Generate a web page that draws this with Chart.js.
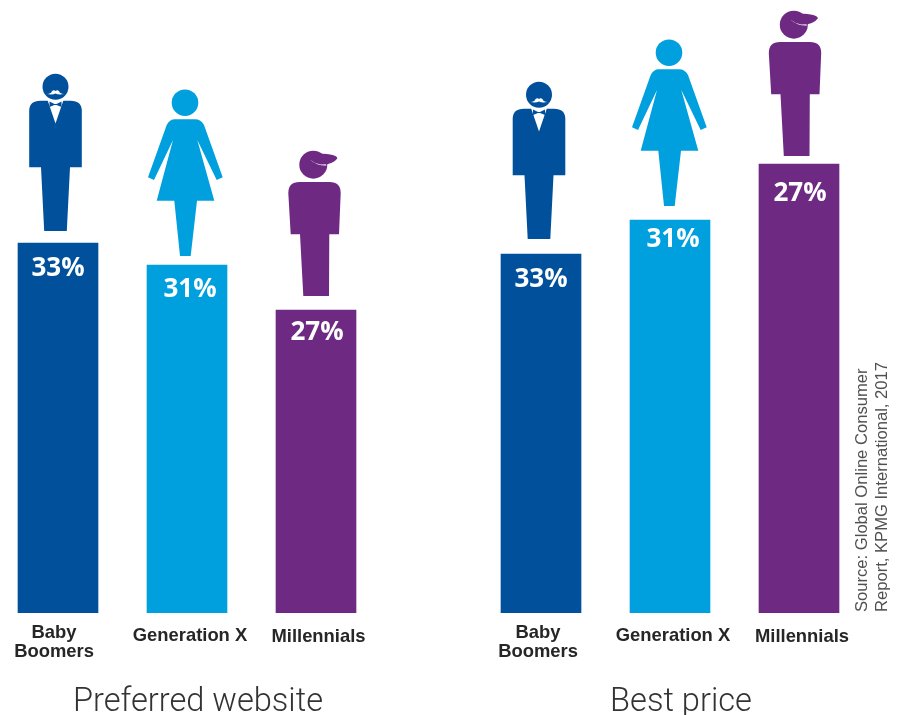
<!DOCTYPE html>
<html>
<head>
<meta charset="utf-8">
<title>Preferred website and best price by generation</title>
<script src="https://cdn.jsdelivr.net/npm/chart.js@4/dist/chart.umd.min.js"></script>
<style>
    html, body { margin: 0; padding: 0; width: 897px; height: 715px; overflow: hidden; background: #fff; }
    canvas { position: absolute; top: 0; }
    #source {
        position: absolute; left: 852px; top: 612px;
        transform-origin: 0 0; transform: rotate(-90deg);
        font: 400 16.6px/20px "Liberation Sans", sans-serif; color: #505050; white-space: nowrap;
    }
</style>
</head>
<body>
<canvas id="preferredChart" width="395" height="715" style="left:-7px"></canvas>
<canvas id="priceChart" width="395" height="715" style="left:476px"></canvas>
<div id="source">Source: Global Online Consumer<br>Report, KPMG International, 2017</div>

<script>
const categories = [['Baby', 'Boomers'], ['Generation X'], ['Millennials']];
const barColors = ['#00509b', '#00a0df', '#6e2a82'];

// Bar lengths as measured on the picture; they do not follow the printed percentages
const preferredHeights = [370, 348, 303];
const bestPriceHeights = [359, 393, 449];
const preferredPercents = ['33%', '31%', '27%'];
const bestPricePercents = ['33%', '31%', '27%'];

// Figures are drawn around (0, 0) = middle of the feet
const drawMan = (c, color) => {
    c.fillStyle = color;
    c.beginPath();
    c.arc(0, -144.3, 13, 0, Math.PI * 2);
    c.fill();
    c.beginPath();
    c.moveTo(-26.3, -63.7);
    c.lineTo(-26.3, -120);
    c.quadraticCurveTo(-26.3, -130.3, -15, -130.3);
    c.lineTo(15, -130.3);
    c.quadraticCurveTo(26.3, -130.3, 26.3, -120);
    c.lineTo(26.3, -63.7);
    c.lineTo(14.5, -63.7);
    c.lineTo(11.3, 0);
    c.lineTo(-11.3, 0);
    c.lineTo(-14.5, -63.7);
    c.closePath();
    c.fill();

    // shirt and moustache
    c.fillStyle = '#fff';
    c.beginPath();
    c.moveTo(-8, -131);
    c.lineTo(8, -131);
    c.lineTo(0, -107.5);
    c.closePath();
    c.fill();
    c.beginPath();
    c.moveTo(-8.5, -137);
    c.quadraticCurveTo(-4, -137.5, -3.5, -140);
    c.quadraticCurveTo(-1.5, -141.5, 0, -140);
    c.quadraticCurveTo(1.5, -141.5, 3.5, -140);
    c.quadraticCurveTo(4, -137.5, 8.5, -137);
    c.quadraticCurveTo(3, -136, 0, -137.5);
    c.quadraticCurveTo(-3, -136, -8.5, -137);
    c.closePath();
    c.fill();

    // bow tie
    c.fillStyle = color;
    c.beginPath();
    c.moveTo(-6, -129.5);
    c.lineTo(-1, -127);
    c.lineTo(1, -127);
    c.lineTo(6, -129.5);
    c.lineTo(6, -124);
    c.lineTo(1, -126);
    c.lineTo(-1, -126);
    c.lineTo(-6, -124);
    c.closePath();
    c.fill();
};

const drawWoman = (c, color) => {
    c.fillStyle = color;
    c.beginPath();
    c.arc(0, -153.3, 13.3, 0, Math.PI * 2);
    c.fill();
    c.beginPath();
    c.moveTo(-10, -136.7);
    c.quadraticCurveTo(-15.5, -136.7, -18.3, -131);
    c.lineTo(-37, -78.7);
    c.lineTo(-31, -76);
    c.lineTo(-12, -116);
    c.lineTo(-28.3, -55.3);
    c.lineTo(-10.7, -55.3);
    c.lineTo(-5, 0);
    c.lineTo(5.7, 0);
    c.lineTo(12, -55.3);
    c.lineTo(29.3, -55.3);
    c.lineTo(12.3, -116);
    c.lineTo(31.7, -76);
    c.lineTo(37.7, -78.7);
    c.lineTo(19, -131);
    c.quadraticCurveTo(16, -136.7, 10, -136.7);
    c.closePath();
    c.fill();
};

const drawYouth = (c, color) => {
    c.fillStyle = color;
    c.beginPath();
    c.arc(-1.2, -131.3, 14, 0, Math.PI * 2);
    c.fill();
    c.beginPath();
    c.moveTo(-26.2, -103);
    c.quadraticCurveTo(-26.2, -114, -15, -114);
    c.lineTo(15, -114);
    c.quadraticCurveTo(26.2, -114, 26.2, -103);
    c.lineTo(24.5, -61.7);
    c.lineTo(14.8, -61.7);
    c.lineTo(14.5, 0);
    c.lineTo(-11.2, 0);
    c.lineTo(-14.5, -61.7);
    c.lineTo(-23.8, -61.7);
    c.closePath();
    c.fill();

    // white slit under the cap, then the visor
    c.fillStyle = '#fff';
    c.beginPath();
    c.moveTo(-4, -136);
    c.quadraticCurveTo(3, -130, 12, -130.5);
    c.lineTo(10, -135);
    c.closePath();
    c.fill();
    c.fillStyle = color;
    c.beginPath();
    c.moveTo(4, -142.5);
    c.quadraticCurveTo(23, -142, 22.8, -137.5);
    c.quadraticCurveTo(18, -131, 6, -131.5);
    c.quadraticCurveTo(0, -132.5, -4, -136);
    c.closePath();
    c.fill();
};

const figures = [drawMan, drawWoman, drawYouth];

// Draws the figures, percentages, category names and caption from the scales
const pictogramPlugin = {
    id: 'pictogram',
    afterDatasetsDraw(chart, args, opts) {
        const c = chart.ctx;
        const xScale = chart.scales.x;
        const yScale = chart.scales.y;
        const base = yScale.getPixelForValue(0);

        chart.data.datasets[0].data.forEach((value, i) => {
            const cx = xScale.getPixelForValue(i);
            const top = yScale.getPixelForValue(value);

            c.save();
            c.translate(cx + opts.figureShift[i], top - opts.figureGap[i]);
            figures[i](c, barColors[i]);
            c.restore();

            c.save();
            c.fillStyle = '#fff';
            c.textAlign = 'center';
            c.textBaseline = 'middle';
            c.font = '700 26px "Open Sans", sans-serif';
            c.fillText(opts.percents[i], cx + opts.percentShift[i], top + opts.percentDrop[i]);

            c.fillStyle = '#262626';
            c.font = '700 18.4px "Liberation Sans", sans-serif';
            categories[i].forEach((line, n) => {
                c.fillText(line, cx + opts.nameShift[i], base + opts.nameDrop[i] + n * 19);
            });
            c.restore();
        });

        c.save();
        c.fillStyle = '#333';
        c.textAlign = 'center';
        c.textBaseline = 'alphabetic';
        c.font = '300 32.6px Roboto, sans-serif';
        c.fillText(opts.caption, xScale.getPixelForValue(1) + opts.captionShift, base + 98);
        c.restore();
    }
};

const buildChart = (id, heights, extras) => new Chart(document.getElementById(id), {
    type: 'bar',
    plugins: [pictogramPlugin],
    data: {
        labels: categories.map(l => l.join(' ')),
        datasets: [{
            data: heights,
            backgroundColor: barColors,
            borderWidth: 0,
            barThickness: 80
        }]
    },
    options: {
        responsive: false,
        animation: false,
        events: [],
        layout: { padding: { left: 0.5, right: 7.5, top: 0, bottom: 102 } },
        plugins: {
            legend: { display: false },
            tooltip: { enabled: false },
            pictogram: extras
        },
        scales: {
            x: { display: false },
            y: { display: false, min: 0, max: 613 }
        }
    }
});

buildChart('preferredChart', preferredHeights, {
    percents: preferredPercents,
    caption: 'Preferred website',
    captionShift: 11,
    figureShift: [-2.5, -2, -1.5],
    figureGap: [12, 9, 14],
    percentShift: [0, 3, 1],
    percentDrop: [26, 25, 23],
    nameShift: [-4, 3, 2.5],
    nameDrop: [20, 23, 24]
});

buildChart('priceChart', bestPriceHeights, {
    percents: bestPricePercents,
    caption: 'Best price',
    captionShift: 11,
    figureShift: [-2, -1, -4],
    figureGap: [15, 14, 8],
    percentShift: [0, 3, 1],
    percentDrop: [26, 20, 30],
    nameShift: [-3, 3, 3],
    nameDrop: [20, 23, 24]
});
</script>
</body>
</html>
